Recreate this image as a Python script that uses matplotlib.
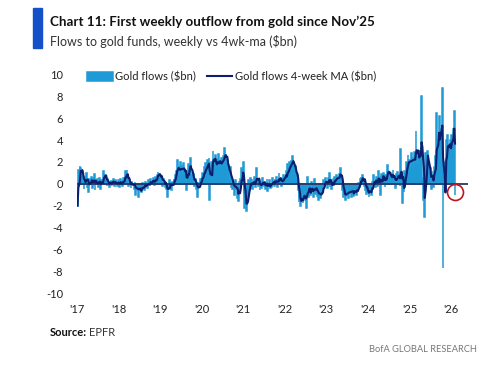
import numpy as np
import pandas as pd
import matplotlib
matplotlib.use("Agg")
import matplotlib.pyplot as plt
from matplotlib.patches import Rectangle

# ---------------- data (weekly gold fund flows, $bn) ----------------
flows_2017 = [-2.0, 1.3, 0.4, 1.6, 1.4, 0.9, 1.1, 0.3, -0.5, 0.6, 0.2, 1.0, -0.3, 0.5,
              -0.8, 0.4, 0.1, 0.6, 0.2, -0.4, 0.5, 0.9, -0.6, 0.3, 0.0, 0.4, -0.3, 0.2,
              0.5, -0.5, 0.3, 0.1, 0.4, 1.2, 0.6, 0.8, 0.3, -0.2, 0.4, 0.1, -0.3, 0.2,
              0.3, -0.1, 0.2, 0.4, -0.2, 0.1, 0.3, 0.0, -0.2, 0.3]
flows_2018 = [0.2, -0.3, 0.4, 0.1, -0.2, 0.3, 0.5, 0.2, 1.2, 0.4, 1.3, 0.6, -0.2, 0.3,
              0.1, -0.4, 0.2, -0.1, 0.0, -0.5, 0.2, -1.0, -0.3, -0.6, 0.1, -1.2, -0.4,
              -0.2, -0.8, -0.5, 0.1, -0.3, -0.6, 0.2, -0.2, 0.0, -0.4, 0.3, 0.1, -0.2,
              0.4, 0.2, 0.0, 0.5, 0.3, -0.1, 0.6, 0.4, 0.8, 1.1, 0.7, 0.9]
flows_2019 = [0.6, 0.3, 0.8, -0.2, 0.4, 0.1, -0.3, 0.2, -0.5, -1.2, -0.4, 0.3, -0.2,
              0.1, -0.6, 0.2, -0.1, 0.4, 0.3, 0.8, 1.2, 2.2, 0.9, 1.5, 0.7, 2.0, 1.1,
              1.6, 0.8, 1.9, 1.3, 0.6, 1.0, -0.6, 1.2, 1.8, 0.9, 1.4, 2.4, 0.8, 0.5,
              0.3, 0.9, -0.2, 0.4, -0.5, 0.2, -1.2, 0.1, -0.3, 0.4, 0.2]
flows_2020 = [0.4, 1.0, 0.6, 1.5, 0.8, 1.9, 1.2, 2.2, 1.6, 2.4, -1.5, 0.9, 2.0, 1.7,
              3.0, 2.1, 1.5, 2.6, 1.8, 1.2, 2.2, 2.7, 1.4, 2.0, 1.6, 2.4, 1.9, 2.5,
              2.1, 3.3, 2.6, 1.8, 2.2, 0.9, 1.6, 0.4, 1.5, -0.3, 0.6, -0.5, 0.2, -1.0,
              0.3, -0.6, -0.2, -1.3, -1.6, 0.2, -0.8, 0.4, 1.4, 0.3]
flows_2021 = [2.0, -0.9, -2.2, -1.6, -2.5, -1.0, -1.4, 0.3, -0.6, 0.5, -0.2, 0.4, -0.5,
              0.2, 0.6, -0.3, 0.1, 1.4, 0.4, -0.2, 0.3, -0.6, 0.2, -0.4, 0.5, 0.1,
              -0.3, 0.2, -0.5, 0.0, 0.4, -0.7, -0.2, 0.3, -0.4, 0.1, -0.3, 0.5, 0.2,
              -0.2, 0.4, 0.1, 0.6, -0.3, 0.3, 1.0, 0.2, 0.5, -0.2, 0.4, 0.3, 0.8, 0.5]
flows_2022 = [0.6, 1.2, 0.4, 1.8, 0.9, 2.0, 1.3, 2.2, 1.7, 2.5, 1.9, 1.4, 1.0, 1.6,
              0.3, 0.8, -0.6, -1.7, -1.2, -2.0, -1.4, -0.9, -1.8, -1.1, -0.6, -1.5,
              -2.2, -0.4, 0.6, -1.2, -0.8, -0.3, -1.0, 0.2, -0.7, -1.2, -0.5, 0.4,
              -0.9, -0.6, -1.1, -0.2, -1.5, -0.8, -1.3, -0.4, -1.0, -0.6, 0.3, -0.2,
              0.5, 0.1]
flows_2023 = [0.2, -0.4, 0.5, 1.0, -0.3, 0.2, -0.5, 0.1, 0.4, -0.2, 0.6, 0.3, 0.8,
              0.2, 0.7, 0.4, 0.9, 1.4, 0.5, 0.2, -0.6, -1.2, -0.5, -1.5, -0.8, -1.0,
              -0.3, -1.3, -0.6, -0.9, -0.2, -1.2, -0.5, -0.8, -1.1, -0.3, -0.7, -1.0,
              -0.4, -0.6, 0.1, -0.3, 0.4, 0.6, 0.2, 0.8, 0.3, -0.2, 0.5, -0.6, -0.9,
              -0.4]
flows_2024 = [-0.8, -1.2, -0.3, -0.6, -1.0, 0.2, -0.4, 0.8, 0.1, -0.3, 0.6, 0.3, -0.2,
              1.2, 0.5, -1.0, 0.7, 0.9, 0.2, 1.0, 0.4, -0.3, 0.8, 0.6, 1.7, 0.9, 1.2,
              0.4, 1.0, 0.3, 0.7, 1.3, 0.2, 0.6, -0.4, 0.9, 0.5, 1.1, 0.3, 0.8, -0.2,
              3.2, 0.6, -1.8, 0.4, -0.8, 1.2, 0.6, 2.0, 1.4, 2.6, 1.8]
flows_2025 = [2.2, 1.5, 2.8, 1.9, 2.4, 1.6, 2.9, 2.0, 4.8, 2.6, 1.8, 3.0, 2.2, 3.0,
              2.0, 8.0, 0.5, -1.5, -1.2, -3.0, 2.8, 2.0, 3.0, 2.5, 1.0, 0.6, 1.4,
              -0.5, 1.2, 0.8, -0.3, 1.5, 2.5, 1.8, 6.5, 2.5, 3.5, 6.2, 4.0, 5.0, 3.5,
              8.8, -7.7, 1.5, 1.0, 2.0, 4.0, 3.0, 4.5, 2.5, 3.5, 4.0]
flows_2026 = [3.0, 4.5, 4.0, 5.0, 6.7, -1.0]

first_week = "2017-01-06"
year_labels = ["'17", "'18", "'19", "'20", "'21", "'22", "'23", "'24", "'25", "'26"]
tick_years = list(range(2017, 2027))
y_ticks = list(range(-10, 11, 2))

title = "Chart 11: First weekly outflow from gold since Nov\u201925"
subtitle = "Flows to gold funds, weekly vs 4wk-ma ($bn)"
bar_label = "Gold flows ($bn)"
line_label = "Gold flows 4-week MA ($bn)"

flows = np.concatenate([flows_2017, flows_2018, flows_2019, flows_2020, flows_2021,
                        flows_2022, flows_2023, flows_2024, flows_2025, flows_2026])
dates = pd.date_range(first_week, periods=len(flows), freq="W-FRI")
ma4 = pd.Series(flows).rolling(4, min_periods=1).mean().values

# ---------------- styling ----------------
FONT = "Lato"
plt.rcParams["font.family"] = [FONT, "DejaVu Sans"]
BAR = "#1E9AD6"
NAVY = "#0C1F6E"
ZERO = "#2A3766"
TXT = "#222222"

W, H = 500, 366
fig = plt.figure(figsize=(W / 100, H / 100), dpi=100)
fig.patch.set_facecolor("white")

ax_left, ax_right, ax_top, ax_bot = 77, 468, 74.5, 293
ax = fig.add_axes([ax_left / W, 1 - ax_bot / H, (ax_right - ax_left) / W,
                   (ax_bot - ax_top) / H])

bars = ax.bar(dates, flows, width=7, color=BAR, edgecolor=BAR, linewidth=1.1,
              label=bar_label, zorder=1)
ax.axhline(0, color=ZERO, lw=1.3, zorder=2)
line, = ax.plot(dates, ma4, color=NAVY, lw=1.5, label=line_label, zorder=3,
                solid_joinstyle="round")

# highlight circle around the latest (negative) week
ax.plot([dates[-1]], [flows[-1] * 0.8], marker="o", ms=11.5, mfc="none",
        mec="#C0161B", mew=1.2, zorder=4, clip_on=False)

ax.set_ylim(-10, 10)
ax.set_xlim(pd.Timestamp("2017-01-01"), pd.Timestamp("2026-05-31"))
ax.set_xticks([pd.Timestamp(f"{y}-01-01") for y in tick_years])
ax.set_xticklabels(year_labels)
ax.set_yticks(y_ticks)
ax.set_yticklabels([str(v) for v in y_ticks])
for s in ax.spines.values():
    s.set_visible(False)
ax.tick_params(axis="both", length=0, labelsize=8, colors=TXT)
ax.tick_params(axis="y", pad=10)
ax.tick_params(axis="x", pad=8)
ax.set_facecolor("white")

leg = ax.legend([bars, line], [bar_label, line_label], loc="upper left",
                bbox_to_anchor=(87 / W, 1 - 71 / H),
                bbox_transform=fig.transFigure, ncol=2, frameon=False,
                fontsize=8, handlelength=2.3, handleheight=0.9,
                handletextpad=0.2, columnspacing=1.0, borderpad=0,
                borderaxespad=0)
for t in leg.get_texts():
    t.set_color(TXT)

# ---------------- header / footer ----------------
fig.patches.append(Rectangle((33 / W, 1 - 48 / H), 9 / W, 40 / H,
                             transform=fig.transFigure, color="#1450C8", zorder=5))

t_title = fig.text(50 / W, 1 - 22 / H, title, fontsize=9.5, fontweight="bold",
                   color="#111111", va="center", ha="left")
t_sub = fig.text(50 / W, 1 - 41 / H, subtitle, fontsize=9, color="#333333",
                 va="center", ha="left")
t_src1 = fig.text(50 / W, 1 - 333 / H, "Source:", fontsize=8, fontweight="bold",
                  color="#111111", va="center", ha="left")
t_bofa = fig.text(477 / W, 1 - 349 / H, "BofA GLOBAL RESEARCH", fontsize=8,
                  color="#777777", va="center", ha="right")

renderer = fig.canvas.get_renderer()


def fit(t, target_px):
    w = t.get_window_extent(renderer).width
    t.set_fontsize(t.get_fontsize() * target_px / w)


fit(t_title, 325)
fit(t_sub, 247)
fit(t_bofa, 108)
fit(t_src1, 37)
bb = t_src1.get_window_extent(renderer)
t_src2 = fig.text(bb.x1 / W + 2 / W, 1 - 333 / H, "EPFR", fontsize=t_src1.get_fontsize(),
                  color="#333333", va="center", ha="left")

fig.savefig("out.png", dpi=100, facecolor="white")
